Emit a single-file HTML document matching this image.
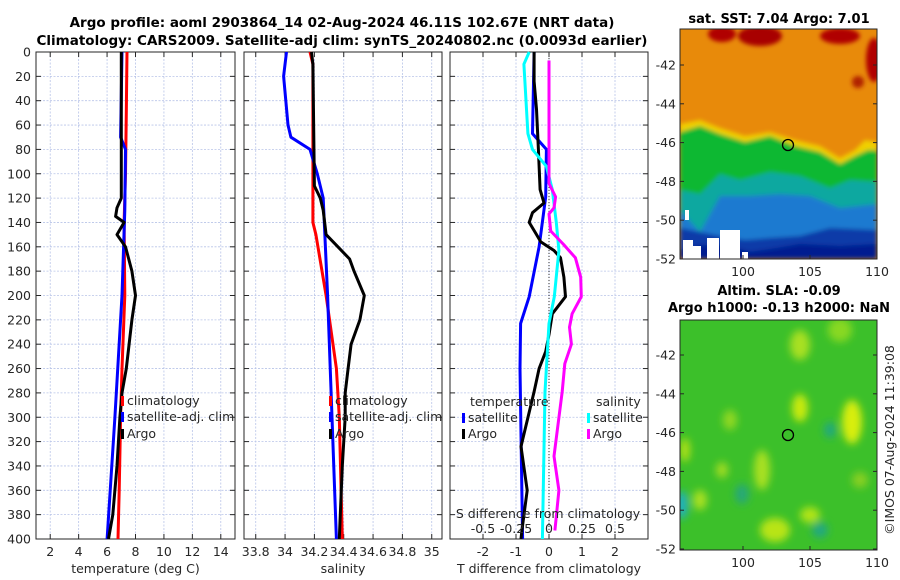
<!DOCTYPE html>
<html><head><meta charset="utf-8"><style>
body{margin:0;background:#fff;}
svg{display:block;font-family:"DejaVu Sans","Liberation Sans",sans-serif;}
.tk{font-size:12.5px;fill:#262626;}
.tt{font-size:13.5px;font-weight:bold;fill:#000;}
</style></head><body>
<svg id="fig" width="900" height="580" viewBox="0 0 900 580">
<defs><filter id="bl" x="-50%" y="-50%" width="200%" height="200%"><feGaussianBlur stdDeviation="4"/></filter>
<filter id="bl2" x="-10%" y="-10%" width="120%" height="120%"><feGaussianBlur stdDeviation="2"/></filter>
<clipPath id="m1c"><rect x="680" y="29" width="197" height="230"/></clipPath>
<clipPath id="m2c"><rect x="680" y="320" width="197" height="230"/></clipPath></defs>
<text class="tt" x="342" y="27" text-anchor="middle">Argo profile: aoml 2903864_14 02-Aug-2024 46.11S 102.67E (NRT data)</text>
<text class="tt" x="342" y="45" text-anchor="middle">Climatology: CARS2009. Satellite-adj clim: synTS_20240802.nc (0.0093d earlier)</text>
<g id="maps">
<g clip-path="url(#m1c)">
<rect x="680" y="29" width="197" height="230" fill="#e88a0a"/>
<g filter="url(#bl2)">
<ellipse cx="760" cy="36" rx="22" ry="10" fill="#a80000"/>
<ellipse cx="722" cy="34" rx="14" ry="8" fill="#b00000"/>
<ellipse cx="840" cy="36" rx="20" ry="8" fill="#b00000"/>
<ellipse cx="874" cy="60" rx="8" ry="22" fill="#b00000"/>
<ellipse cx="858" cy="82" rx="6" ry="6" fill="#b02000"/>
<path d="M680,124 L700,120 L720,128 L745,136 L770,132 L795,140 L820,146 L840,158 L855,150 L865,140 L877,142 L877,259 L680,259Z" fill="#f0d000"/>
<path d="M680,132 L700,126 L720,134 L745,142 L770,136 L795,146 L820,152 L840,164 L855,156 L868,150 L877,150 L877,259 L680,259Z" fill="#10b830"/>
<path d="M680,190 L700,194 L720,174 L740,180 L770,172 L800,176 L830,188 L850,180 L877,182 L877,259 L680,259Z" fill="#10a8a0"/>
<path d="M680,210 L700,232 L720,196 L750,196 L780,194 L810,196 L840,208 L877,204 L877,259 L680,259Z" fill="#1a7ad0"/>
<path d="M680,228 L720,236 L745,240 L770,238 L800,236 L830,228 L877,230 L877,259 L680,259Z" fill="#0a3aa8"/>
<path d="M680,250 L700,245 L730,246 L750,252 L777,248 L800,244 L840,246 L877,244 L877,259 L680,259Z" fill="#001a90"/>
</g>
<rect x="683" y="240" width="10" height="19" fill="#fff"/><rect x="693" y="246" width="8" height="13" fill="#fff"/>
<rect x="707" y="238" width="12" height="21" fill="#fff"/><rect x="720" y="230" width="20" height="29" fill="#fff"/>
<rect x="742" y="252" width="6" height="7" fill="#fff"/><rect x="685" y="210" width="4" height="10" fill="#fff"/>
<circle cx="788" cy="145" r="5.5" fill="none" stroke="#000" stroke-width="1.3"/>
</g>
<rect x="680" y="29" width="197" height="230" fill="none" stroke="#262626" stroke-width="1"/>
<g clip-path="url(#m2c)">
<rect x="680" y="320" width="197" height="230" fill="#3cc02a"/>
<g filter="url(#bl)">
<ellipse cx="800" cy="345" rx="10" ry="15" fill="#a8e020"/><ellipse cx="840" cy="330" rx="12" ry="12" fill="#88d820"/>
<ellipse cx="800" cy="408" rx="8" ry="14" fill="#c8ea10"/><ellipse cx="852" cy="422" rx="10" ry="22" fill="#d8ee10"/>
<ellipse cx="730" cy="420" rx="7" ry="10" fill="#90d820"/><ellipse cx="762" cy="470" rx="8" ry="20" fill="#a8e020"/>
<ellipse cx="700" cy="500" rx="7" ry="10" fill="#a8e020"/><ellipse cx="775" cy="530" rx="15" ry="12" fill="#b8e418"/>
<ellipse cx="810" cy="515" rx="10" ry="8" fill="#b0e418"/><ellipse cx="722" cy="470" rx="6" ry="8" fill="#a0dc20"/>
<ellipse cx="682" cy="505" rx="6" ry="14" fill="#20b0c0"/><ellipse cx="830" cy="430" rx="6" ry="8" fill="#20a880"/>
<ellipse cx="820" cy="530" rx="8" ry="8" fill="#22a880"/><ellipse cx="742" cy="494" rx="7" ry="10" fill="#28a878"/>
<ellipse cx="685" cy="450" rx="5" ry="12" fill="#b0e018"/><ellipse cx="860" cy="480" rx="8" ry="8" fill="#88d020"/>
</g>
<circle cx="788" cy="435" r="5.5" fill="none" stroke="#000" stroke-width="1.3"/>
</g>
<rect x="680" y="320" width="197" height="230" fill="none" stroke="#262626" stroke-width="1"/>
<text class="tt" x="779" y="23" text-anchor="middle" style="font-size:13px">sat. SST: 7.04 Argo: 7.01</text>
<text class="tt" x="779" y="295" text-anchor="middle" style="font-size:13px">Altim. SLA: -0.09</text>
<text class="tt" x="779" y="312" text-anchor="middle" style="font-size:13px">Argo h1000: -0.13 h2000: NaN</text>
<text class="tk" transform="translate(894,440) rotate(-90)" text-anchor="middle">©IMOS 07-Aug-2024 11:39:08</text>
</g>
</svg>
<script>
const depthTicks=[0,20,40,60,80,100,120,140,160,180,200,220,240,260,280,300,320,340,360,380,400];
const tempTicks=[2,4,6,8,10,12,14];
const salTicks=[33.8,34,34.2,34.4,34.6,34.8,35];
const salTickLabels=["33.8","34","34.2","34.4","34.6","34.8","35"];
const tdTicks=[-2,-1,0,1,2];
const sdTicks=[-0.5,-0.25,0,0.25,0.5];
const sdTickLabels=["-0.5","-0.25","0","0.25","0.5"];
// temperature
const tClimD=[0,50,100,140,200,260,300,360,400];
const tClim=[7.4,7.35,7.3,7.2,7.25,7.05,6.95,6.85,6.77];
const tSatD=[0,70,80,130,200,300,400];
const tSat=[7.05,6.95,7.3,7.25,7.05,6.55,6.0];
const tArgoD=[0,50,120,128,135,140,150,160,180,200,220,240,260,280,300,340,380,400];
const tArgo=[7.0,7.0,7.0,6.7,6.6,7.2,6.7,7.3,7.75,8.0,7.75,7.55,7.35,7.05,6.9,6.7,6.4,6.1];
// salinity
const sClimD=[0,10,100,140,150,200,260,300,400];
const sClim=[34.17,34.19,34.19,34.19,34.21,34.28,34.35,34.37,34.39];
const sSatD=[0,20,60,70,80,100,120,200,300,400];
const sSat=[34.01,33.99,34.02,34.04,34.17,34.22,34.26,34.29,34.32,34.35];
const sArgoD=[0,10,110,120,130,150,160,170,180,200,220,240,260,280,300,340,400];
const sArgo=[34.18,34.19,34.2,34.24,34.26,34.28,34.36,34.44,34.47,34.54,34.51,34.45,34.43,34.41,34.41,34.39,34.37];
// differences
const dTSatD=[0,67,80,119,160,201,223,260,400];
const dTSat=[-0.45,-0.5,-0.08,-0.1,-0.3,-0.6,-0.86,-0.88,-0.8];
const dTArgoD=[0,24,47,80,113,124,132,140,149,156,163,169,185,201,215,232,246,260,279,324,360,393,400];
const dTArgo=[-0.45,-0.45,-0.38,-0.32,-0.27,-0.15,-0.5,-0.6,-0.4,-0.25,0.15,0.35,0.45,0.5,0.1,0,-0.1,-0.3,-0.45,-0.85,-0.66,-0.82,-0.85];
const dSSatD=[0,10,67,80,94,113,140,163,201,223,279,400];
const dSSat=[-0.15,-0.19,-0.16,-0.125,-0.02,0.025,0.055,0.075,0.04,0,-0.03,-0.05];
const dSArgoD=[7,108,119,128,133,147,158,169,185,201,215,226,240,256,279,332,360,393];
const dSArgo=[0,0,0.05,0.038,0,0.013,0.11,0.2,0.24,0.245,0.175,0.155,0.17,0.12,0.1,0.038,0.075,0.045];

const NS='http://www.w3.org/2000/svg';
const svg=document.getElementById('fig');
const Y0=52,Y1=539;
const yS=d=>Y0+(Y1-Y0)*d/400;
function mk(tag,a,parent){const e=document.createElementNS(NS,tag);for(const k in a)e.setAttribute(k,a[k]);(parent||svg).appendChild(e);return e;}
function axis(x0,x1,lo,hi){return v=>x0+(x1-x0)*(v-lo)/(hi-lo);}
function panel(name,x0,x1,xf,ticks,labels,xlabel,showY){
  const g=mk('g',{});
  
  
  ticks.forEach(t=>{mk('line',{x1:xf(t),x2:xf(t),y1:Y0,y2:Y1,stroke:'#b8c4e8','stroke-width':0.8,'stroke-dasharray':'2,1.5'},g);});
  depthTicks.forEach(d=>{mk('line',{x1:x0,x2:x1,y1:yS(d),y2:yS(d),stroke:'#b8c4e8','stroke-width':0.8,'stroke-dasharray':'2,1.5'},g);
    mk('line',{x1:x0,x2:x0+5,y1:yS(d),y2:yS(d),stroke:'#262626'},g);mk('line',{x1:x1,x2:x1-5,y1:yS(d),y2:yS(d),stroke:'#262626'},g);
    if(showY){const t=mk('text',{x:x0-5,y:yS(d)+4.5,'text-anchor':'end',class:'tk'},g);t.textContent=d;
      
      }});
  ticks.forEach((t,i)=>{mk('line',{x1:xf(t),x2:xf(t),y1:Y1,y2:Y1-5,stroke:'#262626'},g);mk('line',{x1:xf(t),x2:xf(t),y1:Y0,y2:Y0+5,stroke:'#262626'},g);
    const tx=mk('text',{x:xf(t),y:Y1+17,'text-anchor':'middle',class:'tk'},g);tx.textContent=labels?labels[i]:t;
    
    });
  const xl=mk('text',{x:(x0+x1)/2,y:Y1+34,'text-anchor':'middle',class:'tk'},g);xl.textContent=xlabel;
  
  
  mk('rect',{x:x0,y:Y0,width:x1-x0,height:Y1-Y0,fill:'none',stroke:'#262626','stroke-width':1},g);
  return g;}
function line(name,xf,vals,ds,color){
  const p=mk('path',{d:vals.map((v,i)=>(i?'L':'M')+xf(v).toFixed(1)+','+yS(ds[i]).toFixed(1)).join(''),fill:'none',stroke:color,'stroke-width':3,'stroke-linejoin':'round'});
  
  }
function leg(name,x,y,color,label){
  mk('rect',{x:x,y:y-9,width:3,height:10,fill:color});
  const t=mk('text',{x:x+6,y:y,class:'tk'});t.textContent=label;
  
  }
function lbl(name,x,y,s,anchor){const t=mk('text',{x:x,y:y,class:'tk','text-anchor':anchor||'start'});t.textContent=s;
  
  }

const xT=axis(36,235,1,15);
panel('temperature-panel',36,235,xT,tempTicks,null,'temperature (deg C)',true);
line('temp-climatology-line',xT,tClim,tClimD,'#ff0000');
line('temp-satellite-clim-line',xT,tSat,tSatD,'#0000ff');
line('temp-argo-line',xT,tArgo,tArgoD,'#000000');
leg('legend-climatology',121,405,'#ff0000','climatology');
leg('legend-satellite-adj',121,421,'#0000ff','satellite-adj. clim');
leg('legend-argo',121,438,'#000','Argo');

const xS=axis(244,442,33.72,35.07);
panel('salinity-panel',244,442,xS,salTicks,salTickLabels,'salinity',false);
line('sal-climatology-line',xS,sClim,sClimD,'#ff0000');
line('sal-satellite-clim-line',xS,sSat,sSatD,'#0000ff');
line('sal-argo-line',xS,sArgo,sArgoD,'#000000');
leg('legend-climatology-2',329,405,'#ff0000','climatology');
leg('legend-satellite-adj-2',329,421,'#0000ff','satellite-adj. clim');
leg('legend-argo-2',329,438,'#000','Argo');

const xD=axis(450,648,-3,3);
const xSD=axis(450,648,-0.75,0.75);
panel('difference-panel',450,648,xD,tdTicks,null,'T difference from climatology',false);
mk('line',{x1:xD(0),x2:xD(0),y1:Y0,y2:Y1,stroke:'#333','stroke-width':1,'stroke-dasharray':'1,2'});
line('tdiff-satellite-line',xD,dTSat,dTSatD,'#0000ff');
line('tdiff-argo-line',xD,dTArgo,dTArgoD,'#000000');
line('sdiff-satellite-line',xSD,dSSat,dSSatD,'#00ffff');
line('sdiff-argo-line',xSD,dSArgo,dSArgoD,'#ff00ff');
lbl('legend-temperature-heading',470,406,'temperature');
lbl('legend-salinity-heading',596,406,'salinity');
leg('legend-t-satellite',462,422,'#0000ff','satellite');
leg('legend-t-argo',462,438,'#000','Argo');
leg('legend-s-satellite',587,422,'#00ffff','satellite');
leg('legend-s-argo',587,438,'#ff00ff','Argo');
lbl('s-diff-axis-title',548,518,'S difference from climatology','middle');
sdTicks.forEach((t,i)=>lbl('s-diff-tick-label',xSD(t),533,sdTickLabels[i],'middle'));

// map axes
const lat=[-42,-44,-46,-48,-50,-52];
const lon=[100,105,110];
const m1Y=axis(65,259,-42,-52), mX=axis(743,877,100,110), m2Y=axis(355,549,-42,-52);
[[m1Y,259],[m2Y,550]].forEach(([ys,bot],k)=>{
  lat.forEach(v=>{mk('line',{x1:680,x2:684,y1:ys(v),y2:ys(v),stroke:'#262626'});mk('line',{x1:873,x2:877,y1:ys(v),y2:ys(v),stroke:'#262626'});
    lbl('map-lat-tick',676,ys(v)+4.5,v,'end');});
  lon.forEach(v=>{mk('line',{x1:mX(v),x2:mX(v),y1:bot,y2:bot-4,stroke:'#262626'});
    lbl('map-lon-tick',mX(v),bot+17,v,'middle');});
});
</script>
</body></html>
